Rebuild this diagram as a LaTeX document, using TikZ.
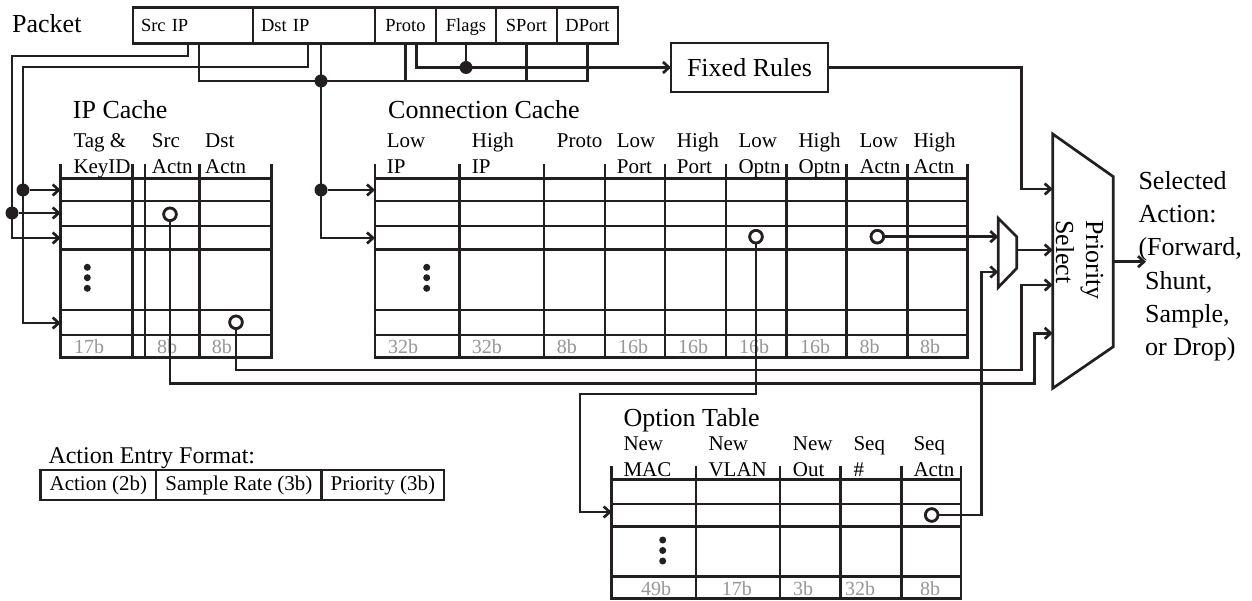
\documentclass[tikz,border=0pt]{standalone}
\usepackage{fontspec}
\setmainfont{Liberation Serif}
\usetikzlibrary{arrows.meta,positioning,calc}
\definecolor{ink}{RGB}{35,31,32}
\definecolor{sizegray}{RGB}{150,150,150}
\tikzset{
  wire/.style={draw=ink,line width=2.7pt},
  flow/.style={wire,-{Straight Barb[length=6pt,width=11pt]}},
  grid/.style={draw=ink,line width=2.7pt,line cap=rect},
  pcell/.style={draw=ink,line width=2.7pt,minimum height=36pt,inner ysep=0pt,inner xsep=8pt,outer sep=0pt,
    text height=12.5pt,text depth=0pt,font=\fontsize{18.5}{22}\selectfont},
  ecell/.style={draw=ink,line width=2.7pt,minimum height=30pt,inner sep=0pt,outer sep=0pt,
    text height=14pt,text depth=4pt,font=\fontsize{21}{25}\selectfont},
  box/.style={draw=ink,line width=2.7pt,inner sep=0pt,outer sep=0pt,minimum width=157pt,minimum height=49pt,
    font=\fontsize{26}{30}\selectfont},
  title/.style={inner sep=0pt,font=\fontsize{26}{33.3}\selectfont},
  hdr/.style={anchor=base west,align=left,inner sep=0pt,font=\fontsize{21}{26}\selectfont},
  sz/.style={anchor=base west,inner sep=0pt,text=sizegray,font=\fontsize{20}{24}\selectfont},
  tap/.style={circle,fill=ink,inner sep=0pt,minimum size=13pt},
  ring/.style={circle,draw=ink,line width=2.7pt,fill=white,inner sep=0pt,minimum size=12.5pt},
}

\begin{document}
\begin{tikzpicture}[x=1pt,y=-1pt]
\useasboundingbox (0,0) rectangle (1252,601);

% packet header
\node[title,anchor=base west] (pkt) at (12,32.3) {Packet};
\node[pcell,text width=104pt,align=left,anchor=north west] (srcip) at (133,7.3) {Src IP};
\node[pcell,text width=106pt,align=left,right=0pt of srcip] (dstip) {Dst IP};
\node[pcell,text width=45pt,align=center,right=0pt of dstip] (proto) {Proto};
\node[pcell,text width=44pt,align=center,right=0pt of proto] (flags) {Flags};
\node[pcell,text width=45pt,align=center,right=0pt of flags] (sport) {SPort};
\node[pcell,text width=45pt,align=center,right=0pt of sport] (dport) {DPort};
\node[box] (fixed) at (749.5,67.5) {Fixed Rules};

\coordinate (s1) at ([xshift=-5pt]srcip.south);
\coordinate (s2) at ([xshift=6pt]srcip.south);
\coordinate (d1) at ([xshift=-6pt]dstip.south);
\coordinate (d2) at ([xshift=7pt]dstip.south);
\coordinate (p2) at ([xshift=11pt]proto.south);
\coordinate (bus) at (0,81);

% IP cache
\node[title,anchor=base west] (ipt) at (72.7,118.3) {IP Cache};
\foreach \x in {60.7,132.7,145,199.3,271.7} \draw[grid] (\x,165.7) -- (\x,357.3);
\foreach \y in {178.3,201,226,249.3,310,335,357.3} \draw[grid] (60.7,\y) -- (271.7,\y);
\foreach \x/\t [count=\i] in {73.3/{Tag \&\\KeyID},151.7/{Src\\Actn},205/{Dst\\Actn}}
  \node[hdr] (iph\i) at (\x,173.3) {\t};
\foreach \x/\t [count=\i] in {74/17b,157/8b,211.7/8b}
  \node[sz] (ips\i) at (\x,353) {\t};
\foreach \y in {267.3,277.7,288.3} \fill[ink] (87.3,\y) circle (3.5pt);
\coordinate (ipin1) at (60.7,190);
\coordinate (ipin2) at (60.7,213);
\coordinate (ipin3) at (60.7,238);
\coordinate (ipin4) at (60.7,323);

% connection cache
\node[title,anchor=base west] (cct) at (388,118.3) {Connection Cache};
\foreach \x in {375,459.3,544,605,665,726,786.7,846.7,907.3,967.7} \draw[grid] (\x,165.7) -- (\x,357.3);
\foreach \y in {178.3,201,226,249.3,310,335,357.3} \draw[grid] (375,\y) -- (967.7,\y);
\foreach \x/\t [count=\i] in {386.7/{Low\\IP},471.7/{High\\IP},616.7/{Low\\Port},676.7/{High\\Port},
    738.3/{Low\\Optn},798.3/{High\\Optn},859.3/{Low\\Actn},913.3/{High\\Actn}}
  \node[hdr] (cch\i) at (\x,173.3) {\t};
\node[hdr] (cchp) at (556.7,147.3) {Proto};
\foreach \x/\t [count=\i] in {388/32b,471.7/32b,556.7/8b,618/16b,678/16b,739/16b,800/16b,859.3/8b,920/8b}
  \node[sz] (ccs\i) at (\x,353) {\t};
\foreach \y in {267.3,277.7,288.3} \fill[ink] (426.7,\y) circle (3.5pt);
\coordinate (ccin1) at (375,190);
\coordinate (ccin3) at (375,238);

% option table
\node[title,anchor=base west] (opt) at (623.3,426.7) {Option Table};
\foreach \x in {611.7,696,780,840.7,901.7,961} \draw[grid] (\x,467.3) -- (\x,598.3);
\foreach \y in {479.3,504,526.7,576.7,598.3} \draw[grid] (611.7,\y) -- (961,\y);
\foreach \x/\t [count=\i] in {623.3/{New\\MAC},708.3/{New\\VLAN},792.7/{New\\Out},853.3/{Seq\\\#},913.3/{Seq\\Actn}}
  \node[hdr] (oth\i) at (\x,476.7) {\t};
\foreach \x/\t [count=\i] in {641/49b,721.7/17b,793/3b,845/32b,920/8b}
  \node[sz] (ots\i) at (\x,595) {\t};
\foreach \y in {540,550.5,561} \fill[ink] (662.7,\y) circle (3.5pt);
\coordinate (otin2) at (611.7,512);

% action entry format
\node[title,font=\fontsize{24}{30}\selectfont,anchor=base west] (aef) at (48.3,463.3) {Action Entry Format:};
\node[ecell,minimum width=115.3pt,anchor=north west] (act) at (40.7,470) {Action (2b)};
\node[ecell,minimum width=165.7pt,right=0pt of act] (rate) {Sample Rate (3b)};
\node[ecell,minimum width=122.3pt,right=0pt of rate] (prio) {Priority (3b)};

% mux and priority select
\draw[wire] (998.3,218.3) -- (1016.7,236.7) -- (1016.7,268.3) -- (998.3,287.3) -- cycle;
\coordinate (muxa) at (998.3,236.7);
\coordinate (muxb) at (998.3,272);
\coordinate (muxo) at (1016.7,250);
\draw[wire] (1052.7,134) -- (1113.3,176.7) -- (1113.3,346.7) -- (1052.7,388.3) -- cycle;
\node[title,rotate=-90,anchor=base west,align=left,font=\fontsize{26}{30}\selectfont] (pstxt) at (1056,220) {Priority\\Select};
\coordinate (ps1) at (1052.7,189);
\coordinate (ps2) at (1052.7,250);
\coordinate (ps3) at (1052.7,285);
\coordinate (ps4) at (1052.7,333.3);
\coordinate (pso) at (1113.3,261.7);
\coordinate (selout) at (1146,261.7);
\node[title,anchor=base west,align=left] (sel) at (1138.3,355.8)
  {Selected\\Action:\\(Forward,\\\hspace*{6.7pt}Shunt,\\\hspace*{6.7pt}Sample,\\\hspace*{6.7pt}or Drop)};

% rings
\node[ring] (rsrc) at (170,214.3) {};
\node[ring] (rdst) at (236,322.3) {};
\node[ring] (rlo) at (756,236.7) {};
\node[ring] (rla) at (877.3,236.7) {};
\node[ring] (rsa) at (931.7,515) {};

% wires from the packet
\draw[flow] (s1) |- (12,56) |- (ipin3);
\draw[flow] (d1) |- (23,67) |- (ipin4);
\draw[wire] (s2) |- (dport.south |- bus) -- (dport.south);
\draw[wire] (proto.south) -- (proto.south |- bus);
\draw[wire] (sport.south) -- (sport.south |- bus);
\draw[flow] (d2) |- (ccin3);
\draw[flow] (p2) |- (fixed.west);
\node[tap] (jfl) at (flags.south |- fixed.west) {};
\draw[wire] (flags.south) -- (jfl);
\node[tap] (jip1) at (23,190) {};
\node[tap] (jip2) at (12,213) {};
\node[tap] (jbus) at (d2 |- bus) {};
\node[tap] (jcc) at (d2 |- ccin1) {};
\draw[flow] (jip1) -- (ipin1);
\draw[flow] (jip2) -- (ipin2);
\draw[flow] (jcc) -- (ccin1);

% wires to the selectors
\draw[flow] (fixed.east) -| ($(ps1)+(-31,0)$) -- (ps1);
\draw[flow] (rla) -- (muxa);
\draw[flow] (rsa) -| ($(muxb)+(-16.6,0)$) -- (muxb);
\draw[flow] (muxo) -- (ps2);
\draw[flow] (rdst) |- (1021.7,370) |- (ps3);
\draw[flow] (rsrc) |- (1034.3,383.3) |- (ps4);
\draw[flow] (rlo) |- (580,394) |- (otin2);
\draw[flow] (pso) -- (selout);

% redraw rings on top
\foreach \r in {rsrc,rdst,rlo,rla,rsa} \node[ring] at (\r) {};
\end{tikzpicture}
\end{document}
